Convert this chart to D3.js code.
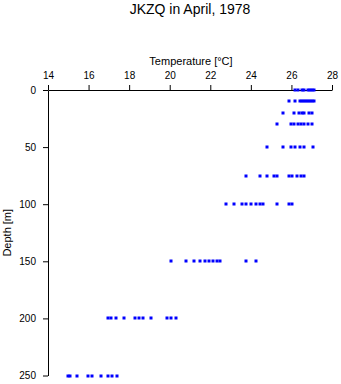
<!DOCTYPE html>
<html>
<head>
<meta charset="utf-8">
<script src="https://cdn.jsdelivr.net/npm/d3@7"></script>
<style>
  html, body { margin: 0; padding: 0; background: #fff; }
  svg { display: block; }
  text { font-family: "Liberation Sans", Arial, Helvetica, sans-serif; fill: #000; }
</style>
</head>
<body>
<svg id="chart" width="341" height="384"></svg>
<script>
const title = "JKZQ in April, 1978";
const xLabel = "Temperature [°C]";
const yLabel = "Depth [m]";
const xTicks = [14, 16, 18, 20, 22, 24, 26, 28];
const yTicks = [0, 50, 100, 150, 200, 250];

const depths = [0, 10, 20, 30, 50, 75, 100, 150, 200, 250];
const temp0   = [26.2, 26.3, 26.5, 26.6, 26.8, 26.9, 27.0, 27.1];
const temp10  = [25.9, 26.2, 26.4, 26.5, 26.6, 26.7, 26.8, 26.9, 27.0, 27.1];
const temp20  = [25.6, 26.15, 26.35, 26.5, 26.6, 26.85, 27.0];
const temp30  = [25.3, 26.0, 26.15, 26.3, 26.45, 26.6, 26.8, 27.0];
const temp50  = [24.8, 25.6, 26.0, 26.2, 26.4, 26.6, 27.05];
const temp75  = [23.75, 24.45, 24.8, 25.15, 25.3, 25.9, 26.05, 26.25, 26.45, 26.6];
const temp100 = [22.75, 23.15, 23.55, 23.75, 24.0, 24.25, 24.45, 24.6, 25.3, 25.9, 26.05];
const temp150 = [20.05, 20.8, 21.2, 21.5, 21.75, 21.95, 22.15, 22.35, 22.5, 23.75, 24.25];
const temp200 = [16.95, 17.1, 17.35, 17.75, 18.3, 18.5, 18.7, 19.1, 19.85, 20.05, 20.3];
const temp250 = [15.0, 15.1, 15.45, 15.95, 16.15, 16.6, 16.95, 17.15, 17.4];

const temps = [temp0, temp10, temp20, temp30, temp50, temp75, temp100, temp150, temp200, temp250];
const points = [];
depths.forEach((d, i) => temps[i].forEach(t => points.push({ depth: d, temp: t })));

const svg = d3.select("#chart");
const mLeft = 48, mRight = 332, mTop = 90, mBottom = 375.5;

const x = d3.scaleLinear().domain([14, 28]).range([mLeft, mRight]);
const y = d3.scaleLinear().domain([0, 250]).range([mTop, mBottom]);

svg.append("text")
  .attr("x", 190).attr("y", 13.5)
  .attr("text-anchor", "middle")
  .style("font-size", "14px")
  .text(title);

const xAxis = svg.append("g")
  .attr("transform", `translate(0,${mTop})`)
  .call(d3.axisTop(x).tickValues(xTicks).tickSize(5).tickSizeOuter(0).tickPadding(6).tickFormat(d3.format("d")));
xAxis.selectAll("text").style("font-size", "10px");

const yAxis = svg.append("g")
  .attr("transform", `translate(${mLeft},0)`)
  .call(d3.axisLeft(y).tickValues(yTicks).tickSize(5).tickSizeOuter(0).tickPadding(7).tickFormat(d3.format("d")));
yAxis.selectAll("text").style("font-size", "10px");

svg.selectAll(".domain, .tick line").attr("stroke", "#000").attr("stroke-width", 1);

svg.append("text")
  .attr("x", 191).attr("y", 65)
  .attr("text-anchor", "middle")
  .style("font-size", "11px")
  .text(xLabel);

svg.append("text")
  .attr("transform", `translate(11,${(mTop + mBottom) / 2}) rotate(-90)`)
  .attr("text-anchor", "middle")
  .style("font-size", "11px")
  .text(yLabel);

svg.append("g").selectAll("rect")
  .data(points)
  .join("rect")
  .attr("x", d => Math.round(x(d.temp)) - 1.5)
  .attr("y", d => Math.round(y(d.depth)) - 1.5)
  .attr("width", 3)
  .attr("height", 3)
  .attr("fill", "#0000ff");
</script>
</body>
</html>
